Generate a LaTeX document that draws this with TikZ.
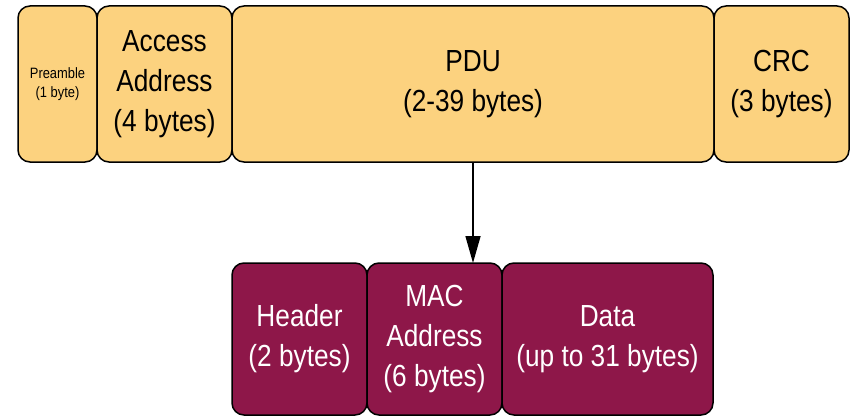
\documentclass[tikz,border=0pt]{standalone}
\usepackage{fontspec}
\setmainfont{Liberation Sans}[FakeStretch=0.86]
\usetikzlibrary{arrows.meta}
\definecolor{fieldyellow}{RGB}{252,210,127}
\definecolor{fieldpurple}{RGB}{142,23,73}
\begin{document}
\begin{tikzpicture}[x=1pt,y=-1pt,
  field/.style={draw=black, line width=1.5pt, rounded corners=12pt, inner sep=0pt, outer sep=0pt, align=center, font=\fontsize{30.5}{40}\selectfont},
  topfield/.style={field, fill=fieldyellow, text=black, minimum height=156pt},
  subfield/.style={field, fill=fieldpurple, text=white, minimum height=152pt},
  link/.style={draw=black, line width=1.5pt, -{Triangle[length=27pt,width=15pt]}}
]
\useasboundingbox (0,0) rectangle (850,417);
\node[topfield, minimum width=79pt, font=\fontsize{15}{19.5}\selectfont] (pre) at (57.5,84) {Preamble\\(1 byte)};
\node[topfield, minimum width=135pt] (acc) at (164.5,84) {Access\\Address\\(4 bytes)};
\node[topfield, minimum width=482pt] (pdu) at (473,84) {PDU\\(2-39 bytes)};
\node[topfield, minimum width=135pt] (crc) at (781.5,84) {CRC\\(3 bytes)};
\node[subfield, minimum width=135pt] (hdr) at (299.5,339) {Header\\(2 bytes)};
\node[subfield, minimum width=135pt] (mac) at (434.5,339) {MAC\\Address\\(6 bytes)};
\node[subfield, minimum width=211pt] (data) at (607.5,339) {Data\\(up to 31 bytes)};
\draw[link] (pdu.south) -- (pdu.south |- mac.north);
\end{tikzpicture}
\end{document}
